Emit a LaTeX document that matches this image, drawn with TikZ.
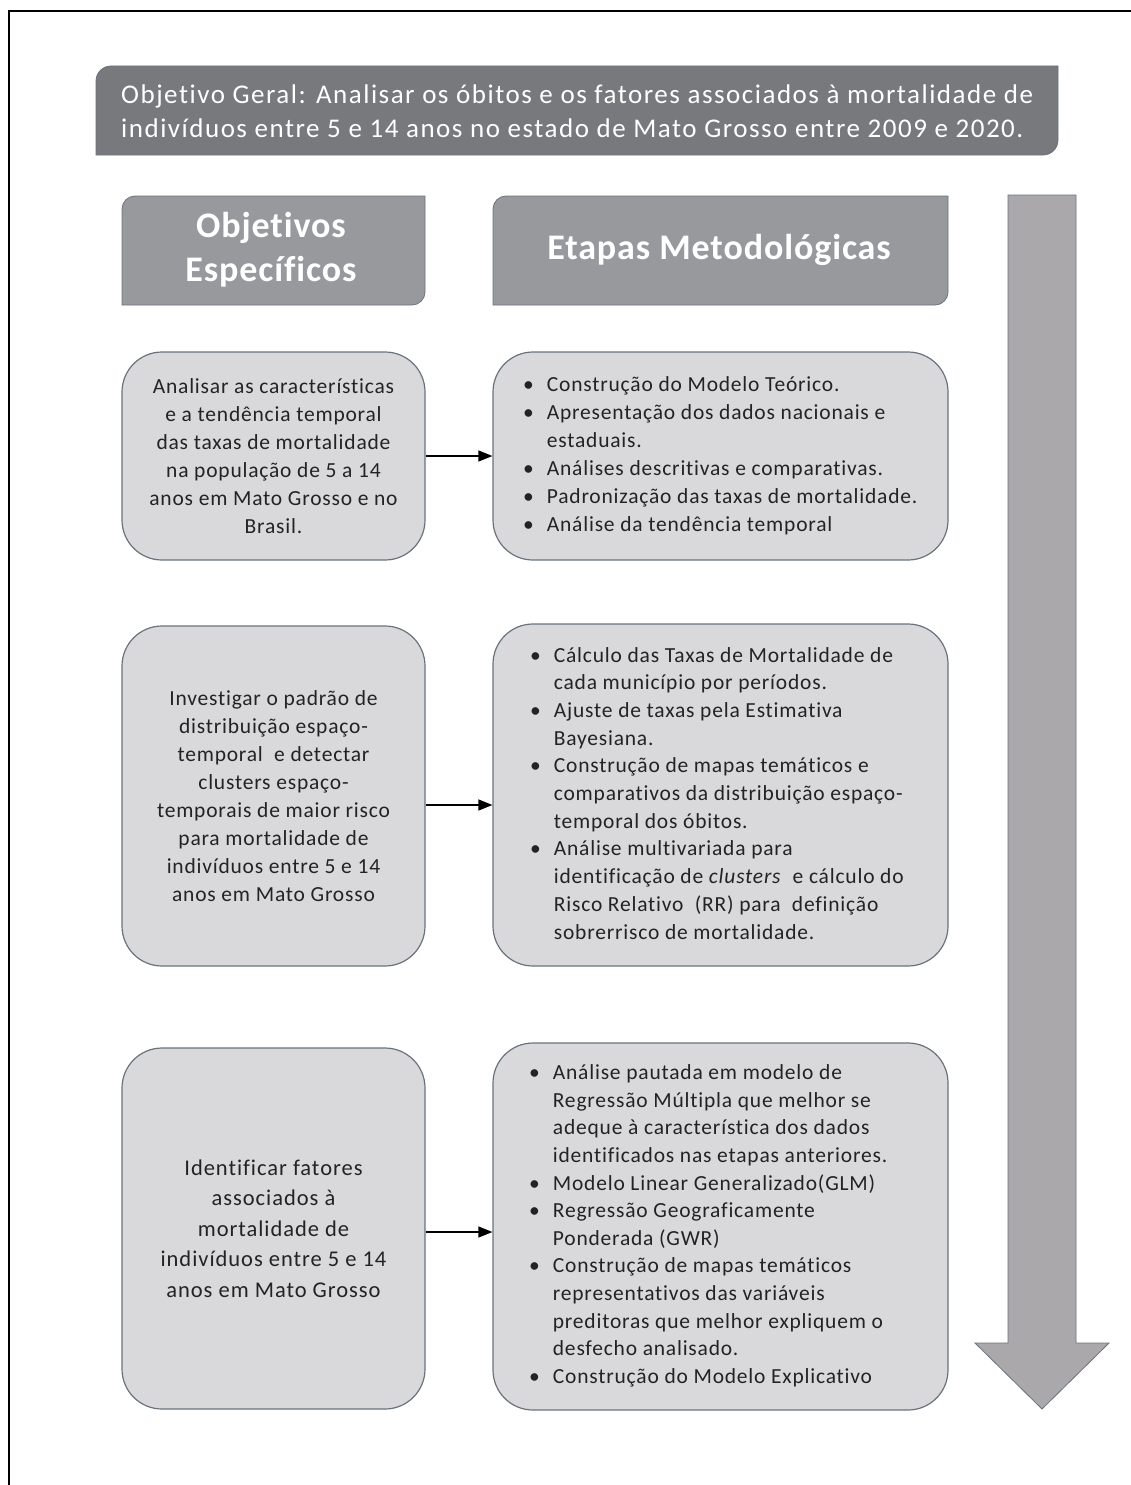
\documentclass[tikz,border=0pt]{standalone}
\usepackage{fontspec}
\setmainfont{Carlito}[Ligatures=NoCommon]
\usetikzlibrary{arrows.meta}
\definecolor{titlegray}{RGB}{120,121,125}
\definecolor{headgray}{RGB}{152,153,157}
\definecolor{boxgray}{RGB}{217,217,219}
\definecolor{boxline}{RGB}{105,115,125}
\definecolor{arrowgray}{RGB}{170,168,171}
\definecolor{txt}{RGB}{35,35,35}
\newcommand\diagrect[6]{%
  \filldraw[fill=#1,draw=boxline,line width=0.8pt] (#2,#5) -- (#2,#3+#6) arc[start angle=180,end angle=270,radius=#6] -- (#4,#3) -- (#4,#5-#6) arc[start angle=0,end angle=90,radius=#6] -- cycle;}
\newcommand\bodyfont[2]{\fontsize{#1}{#2}\selectfont\addfontfeatures{LetterSpace=3.7}}
\begin{document}
\begin{tikzpicture}[x=1pt,y=-1pt,
  cbox/.style={draw=boxline,line width=1.2pt,fill=boxgray,rounded corners=40pt,inner sep=0pt,text=txt,align=center},
  ltext/.style={text=txt,inner sep=0pt,anchor=west,align=left},
  headtext/.style={text=white,inner sep=0pt,align=center,font=\fontsize{36}{44}\selectfont\bfseries\addfontfeatures{LetterSpace=2.5}},
  conn/.style={line width=1.3pt,-{Triangle[length=14pt,width=11pt]}}]
\useasboundingbox (0,0) rectangle (1131,1485);
% frame
\draw[line width=2pt] (9,1485) -- (9,11) -- (1131,11);
% title
\diagrect{titlegray}{96}{66}{1058}{155}{15}
\node[text=white,inner sep=0pt,anchor=west,align=left,font=\fontsize{27}{34}\selectfont\addfontfeatures{LetterSpace=5.6}] (title) at (121,111) {Objetivo Geral: Analisar os óbitos e os fatores associados à mortalidade de\\indivíduos entre 5 e 14 anos no estado de Mato Grosso entre 2009 e 2020.};
% headers
\diagrect{headgray}{122}{196}{425}{305}{13}
\diagrect{headgray}{493}{196}{948}{305}{13}
\node[headtext] (h1) at (271,250) {Objetivos\\Específicos};
\node[headtext] (h2) at (719,250) {Etapas Metodológicas};
% big arrow
\filldraw[fill=arrowgray,draw=boxline,line width=0.8pt] (1008,195) -- (1076,195) -- (1076,1343) -- (1109,1343) -- (1042,1409) -- (975,1343) -- (1008,1343) -- cycle;
% row 1
\node[cbox,minimum width=303pt,minimum height=208pt,font=\bodyfont{21.5}{28}] (l1) at (273.5,456) {Analisar as características\\e a tendência temporal\\das taxas de mortalidade\\na população de 5 a 14\\anos em Mato Grosso e no\\Brasil.};
\node[cbox,minimum width=455pt,minimum height=208pt] (r1) at (720.5,456) {};
\node[ltext,font=\bodyfont{21.5}{28}] (r1t) at (523,456) {\begin{tabular}{@{}l@{\hspace{13pt}}l@{}}
\textbullet & Construção do Modelo Teórico.\\
\textbullet & Apresentação dos dados nacionais e\\
 & estaduais.\\
\textbullet & Análises descritivas e comparativas.\\
\textbullet & Padronização das taxas de mortalidade.\\
\textbullet & Análise da tendência temporal
\end{tabular}};
\draw[conn] (l1) -- (r1);
% row 2
\node[cbox,minimum width=303pt,minimum height=340pt,font=\bodyfont{21.5}{28}] (l2) at (273.5,796) {Investigar o padrão de\\distribuição espaço-\\temporal\ \ e detectar\\clusters espaço-\\temporais de maior risco\\para mortalidade de\\indivíduos entre 5 e 14\\anos em Mato Grosso};
\node[cbox,minimum width=455pt,minimum height=342pt] (r2) at (720.5,795) {};
\node[ltext,font=\bodyfont{21.5}{27.7}] (r2t) at (530,795) {\begin{tabular}{@{}l@{\hspace{13pt}}l@{}}
\textbullet & Cálculo das Taxas de Mortalidade de\\
 & cada município por períodos.\\
\textbullet & Ajuste de taxas pela Estimativa\\
 & Bayesiana.\\
\textbullet & Construção de mapas temáticos e\\
 & comparativos da distribuição espaço-\\
 & temporal dos óbitos.\\
\textbullet & Análise multivariada para\\
 & identificação de \textit{clusters}\ \ e cálculo do\\
 & Risco Relativo\ \ (RR) para\ \ definição\\
 & sobrerrisco de mortalidade.
\end{tabular}};
\draw[conn] ([yshift=-9pt]l2.east) -- ([yshift=-9pt]l2.east -| r2.west);
% row 3
\node[cbox,minimum width=303pt,minimum height=361pt,font=\fontsize{22.5}{30.5}\selectfont\addfontfeatures{LetterSpace=4.3}] (l3) at (273.5,1228.5) {Identificar fatores\\associados à\\mortalidade de\\indivíduos entre 5 e 14\\anos em Mato Grosso};
\node[cbox,minimum width=455pt,minimum height=367pt] (r3) at (720.5,1226.5) {};
\node[ltext,font=\bodyfont{21.5}{27.6}] (r3t) at (529,1226) {\begin{tabular}{@{}l@{\hspace{13pt}}l@{}}
\textbullet & Análise pautada em modelo de\\
 & Regressão Múltipla que melhor se\\
 & adeque à característica dos dados\\
 & identificados nas etapas anteriores.\\
\textbullet & Modelo Linear Generalizado(GLM)\\
\textbullet & Regressão Geograficamente\\
 & Ponderada (GWR)\\
\textbullet & Construção de mapas temáticos\\
 & representativos das variáveis\\
 & preditoras que melhor expliquem o\\
 & desfecho analisado.\\
\textbullet & Construção do Modelo Explicativo
\end{tabular}};
\draw[conn] ([yshift=-3.5pt]l3.east) -- ([yshift=-3.5pt]l3.east -| r3.west);
\end{tikzpicture}
\end{document}
